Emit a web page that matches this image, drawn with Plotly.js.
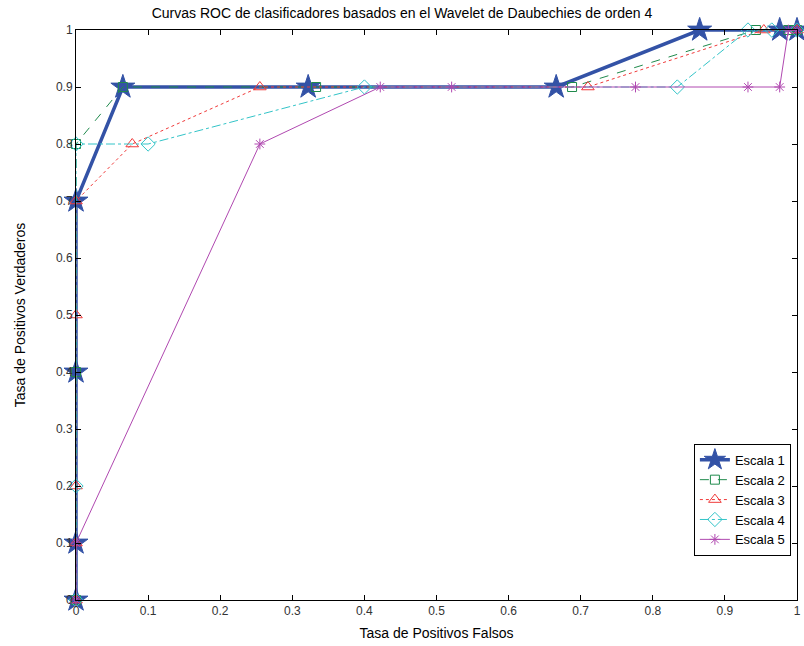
<!DOCTYPE html>
<html>
<head>
<meta charset="utf-8">
<script src="https://cdn.plot.ly/plotly-3.0.1.min.js"></script>
<style>html,body{margin:0;padding:0;background:#fff;}#chart{width:804px;height:646px;}</style>
</head>
<body>
<div id="chart"></div>
<script>
// Tasa de Positivos Falsos (x) / Tasa de Positivos Verdaderos (y)
const seriesNames = ["Escala 1", "Escala 2", "Escala 3", "Escala 4", "Escala 5"];

const x1 = [0, 0, 0, 0, 0.065, 0.322, 0.666, 0.865, 0.976, 1];
const y1 = [0, 0.1, 0.4, 0.7, 0.9, 0.9, 0.9, 1, 1, 1];

const x2 = [0, 0, 0, 0.065, 0.333, 0.688, 0.943, 0.988, 1];
const y2 = [0, 0.4, 0.8, 0.9, 0.9, 0.9, 1, 1, 1];

const x3 = [0, 0, 0, 0, 0, 0.078, 0.255, 0.71, 0.954, 1];
const y3 = [0, 0.1, 0.2, 0.5, 0.7, 0.8, 0.9, 0.9, 1, 1];

const x4 = [0, 0, 0, 0.1, 0.4, 0.834, 0.932, 0.965, 1];
const y4 = [0, 0.2, 0.8, 0.8, 0.9, 0.9, 1, 1, 1];

const x5 = [0, 0, 0.255, 0.422, 0.521, 0.776, 0.932, 0.976, 0.988, 1];
const y5 = [0, 0.1, 0.8, 0.9, 0.9, 0.9, 0.9, 0.9, 1, 1];

const titleText = "Curvas ROC de clasificadores basados en el Wavelet de Daubechies de orden 4";
const xTitle = "Tasa de Positivos Falsos";
const yTitle = "Tasa de Positivos Verdaderos";

const styles = [
  {color: "#3352a6", width: 3.5, dash: "solid", symbol: "star", size: 18},
  {color: "#1f8a4c", width: 1, dash: "dash", symbol: "square-open", size: 9},
  {color: "#f03a3a", width: 1, dash: "dot", symbol: "triangle-up-open", size: 11},
  {color: "#33c4c8", width: 1, dash: "dashdot", symbol: "diamond-open", size: 11},
  {color: "#b048b0", width: 1, dash: "solid", symbol: "asterisk-open", size: 9}
];
const xs = [x1, x2, x3, x4, x5];
const ys = [y1, y2, y3, y4, y5];

const traces = xs.map((xv, i) => ({
  x: xv, y: ys[i], name: seriesNames[i], type: "scatter", mode: "lines+markers",
  cliponaxis: false,
  line: {color: styles[i].color, width: styles[i].width, dash: styles[i].dash},
  marker: {symbol: styles[i].symbol, size: styles[i].size, color: styles[i].color,
           line: {color: styles[i].color, width: 1}}
}));

const axisCommon = {
  range: [0, 1], dtick: 0.1, tick0: 0, showgrid: false, zeroline: false,
  showline: true, linecolor: "#000", linewidth: 1, mirror: "ticks",
  ticks: "inside", ticklen: 5, tickcolor: "#000",
  tickfont: {family: "Liberation Sans, Arial, sans-serif", size: 12, color: "#333"}
};

const layout = {
  width: 804, height: 646,
  margin: {l: 76, r: 7, t: 30, b: 46},
  paper_bgcolor: "#fff", plot_bgcolor: "#fff",
  font: {family: "Liberation Sans, Arial, sans-serif", size: 13, color: "#000"},
  title: {text: titleText, x: 0.5, xanchor: "center", y: 0.988, yanchor: "top",
          font: {size: 14, color: "#000"}},
  xaxis: Object.assign({}, axisCommon, {title: {text: xTitle, font: {size: 14}, standoff: 10}}),
  yaxis: Object.assign({}, axisCommon, {title: {text: yTitle, font: {size: 14}, standoff: 27}}),
  showlegend: true,
  legend: {x: 0.857, y: 0.274, xanchor: "left", yanchor: "top",
           bgcolor: "#fff", bordercolor: "#000", borderwidth: 1,
           font: {size: 13, color: "#000"}, tracegroupgap: 0, itemwidth: 30}
};

Plotly.newPlot("chart", traces, layout, {displayModeBar: false, staticPlot: true});
</script>
</body>
</html>
